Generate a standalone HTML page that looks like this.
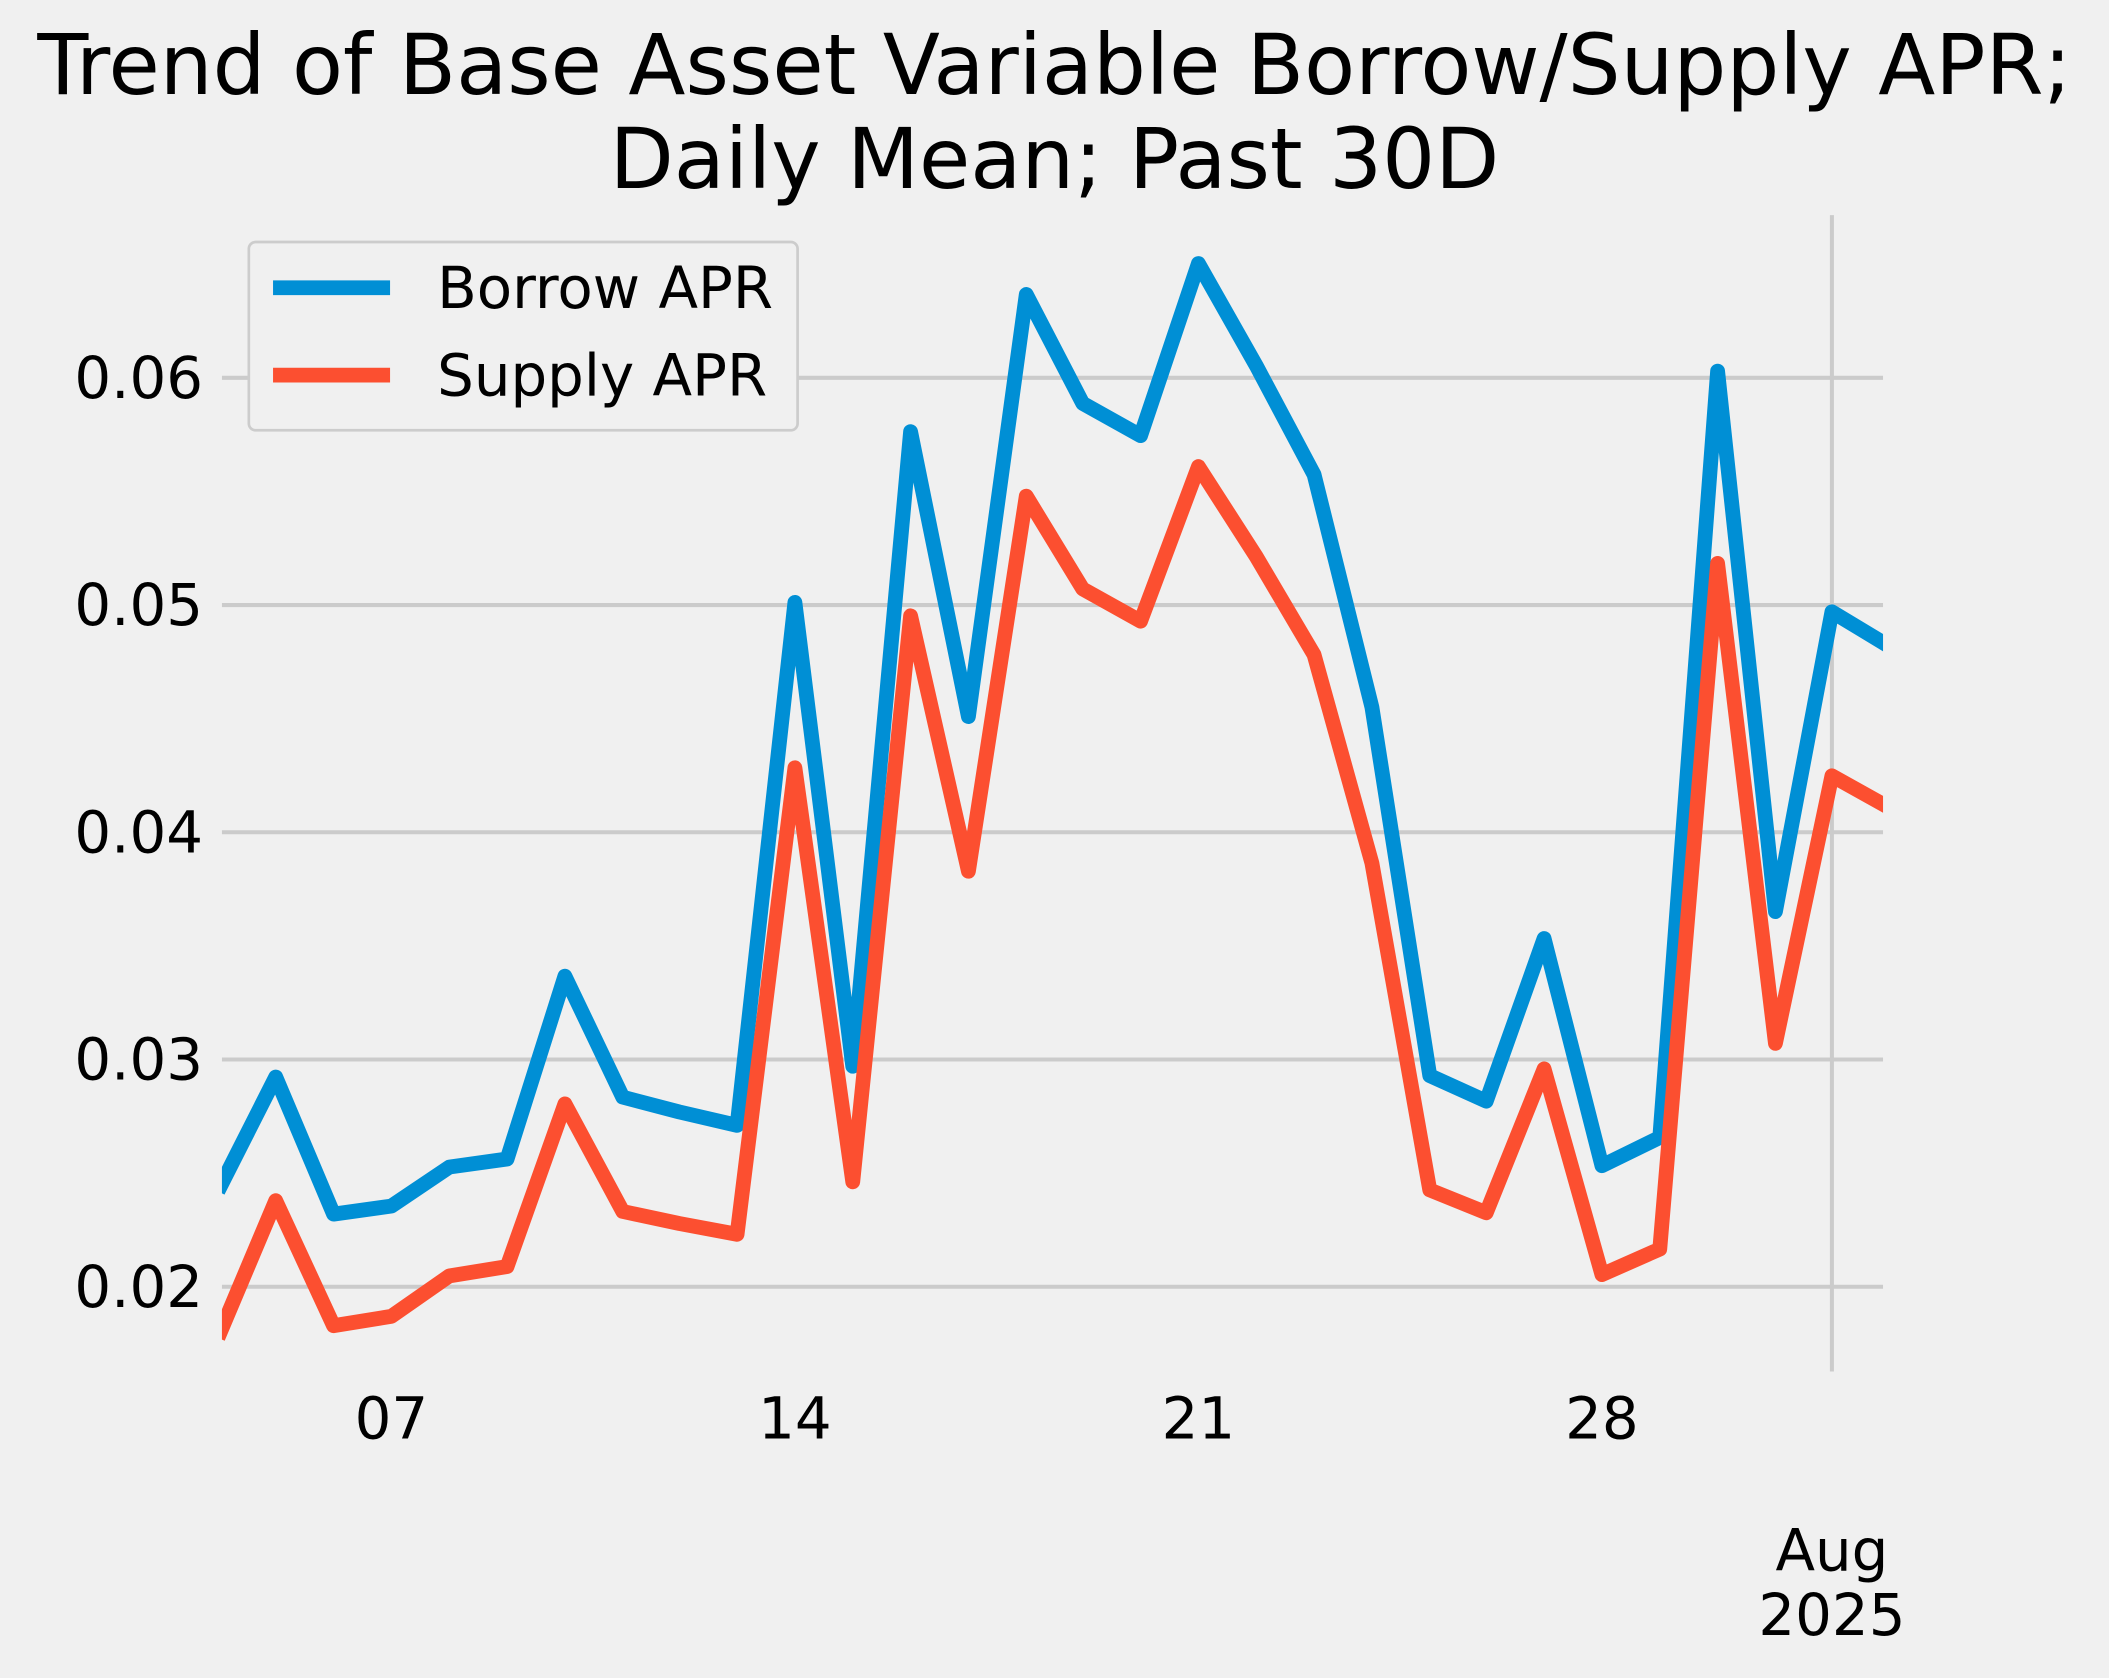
<!DOCTYPE html>
<html><head><meta charset="utf-8"><style>html,body{margin:0;padding:0;background:#f0f0f0}svg{display:block}</style></head>
<body>
<svg width="2109" height="1678" viewBox="0 0 1568 1248" preserveAspectRatio="none" xmlns="http://www.w3.org/2000/svg" font-family="'DejaVu Sans','Liberation Sans',sans-serif">
<rect width="1568" height="1248" fill="#f0f0f0"/>
<defs><clipPath id="c"><rect x="165" y="150" width="1235" height="880"/></clipPath></defs>
<text x="784" y="70" font-size="62" text-anchor="middle">Trend of Base Asset Variable Borrow/Supply APR;</text>
<text x="784" y="140" font-size="62" text-anchor="middle">Daily Mean; Past 30D</text>
<g stroke="#cbcbcb" stroke-width="3">
<line x1="165" y1="281" x2="1400" y2="281"/>
<line x1="165" y1="450" x2="1400" y2="450"/>
<line x1="165" y1="619" x2="1400" y2="619"/>
<line x1="165" y1="788" x2="1400" y2="788"/>
<line x1="165" y1="957" x2="1400" y2="957"/>
<line x1="1362" y1="160" x2="1362" y2="1020"/>
</g>
<g font-size="43" text-anchor="end">
<text x="151" y="296">0.06</text>
<text x="151" y="465">0.05</text>
<text x="151" y="634">0.04</text>
<text x="151" y="803">0.03</text>
<text x="151" y="972">0.02</text>
</g>
<g font-size="43" text-anchor="middle">
<text x="291" y="1070">07</text>
<text x="591" y="1070">14</text>
<text x="891" y="1070">21</text>
<text x="1191" y="1070">28</text>
<text x="1362" y="1168">Aug</text>
<text x="1362" y="1216">2025</text>
</g>
<g clip-path="url(#c)" fill="none" stroke-width="11" stroke-linejoin="round">
<polyline stroke="#008fd5" points="162,886 205,801 248,903 291,897 334,868 377,862 420,726 463,816 505,827 548,837 591,448 634,793 677,321 720,533 763,219 805,300 848,324 891,196 934,272 977,353 1020,526 1063,800 1105,819 1148,698 1191,867 1234,846 1277,276 1320,678 1362,455 1405,481"/>
<polyline stroke="#fc4f30" points="162,995 205,893 248,986 291,979 334,949 377,942 420,821 463,901 505,910 548,918 591,571 634,879 677,458 720,648 763,369 805,438 848,462 891,347 934,414 977,487 1020,642 1063,885 1105,902 1148,795 1191,948 1234,929 1277,419 1320,776 1362,577 1405,601"/>
</g>
<rect x="185" y="180" width="408" height="140" rx="5" fill="#f0f0f0" stroke="#cccccc" stroke-width="2"/>
<line x1="203" y1="214" x2="290" y2="214" stroke="#008fd5" stroke-width="11"/>
<line x1="203" y1="279" x2="290" y2="279" stroke="#fc4f30" stroke-width="11"/>
<text x="325" y="229" font-size="43">Borrow APR</text>
<text x="325" y="294" font-size="43">Supply APR</text>
</svg>
</body></html>
